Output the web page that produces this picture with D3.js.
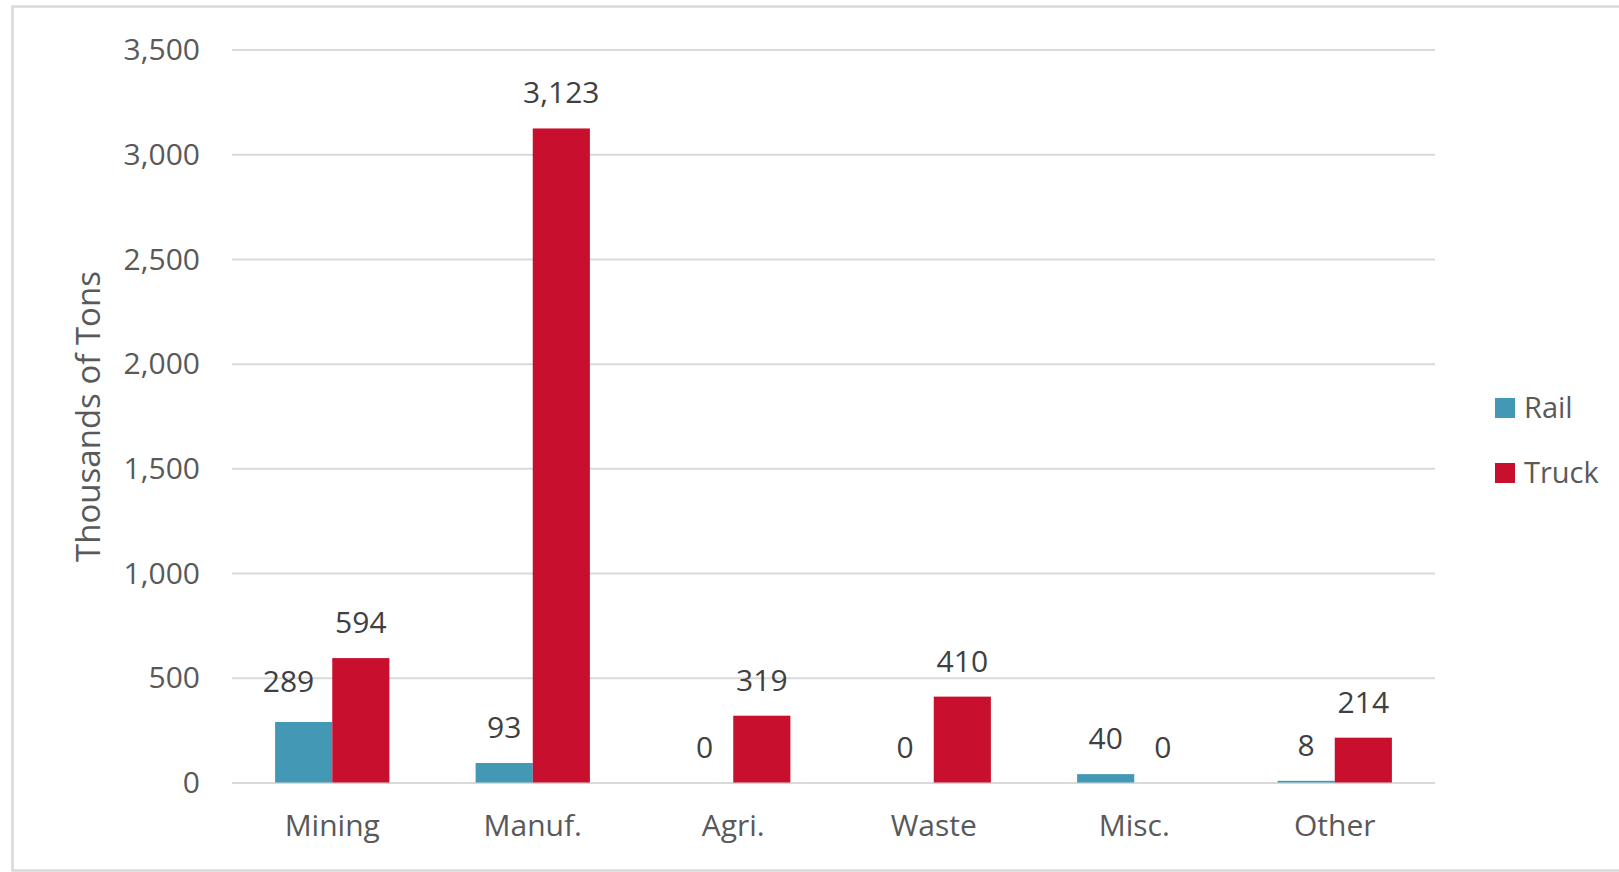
<!DOCTYPE html>
<html>
<head>
<meta charset="utf-8">
<script src="https://cdn.jsdelivr.net/npm/d3@7"></script>
<style>
  html, body { margin: 0; padding: 0; background: #ffffff; }
  svg { display: block; }
  text { font-family: "Open Sans", "Noto Sans", sans-serif; }
</style>
</head>
<body>
<div id="chart"></div>
<script>
// ---- data ----
const categories = ["Mining", "Manuf.", "Agri.", "Waste", "Misc.", "Other"];
const seriesNames = ["Rail", "Truck"];
const railValues = [289, 93, 0, 0, 40, 8];
const truckValues = [594, 3123, 319, 410, 0, 214];
const yTicks = [0, 500, 1000, 1500, 2000, 2500, 3000, 3500];
const yTitle = "Thousands of Tons";
const colors = ["#4398B5", "#C8102E"];

const W = 1619, H = 872;
const plotLeft = 232, plotRight = 1435, plotTop = 49.5, plotBottom = 782.5;

const svg = d3.select("#chart").append("svg")
  .attr("width", W).attr("height", H);

// outer chart border
svg.append("rect")
  .attr("x", 12.5).attr("y", 6.5)
  .attr("width", W + 20).attr("height", 864)
  .attr("fill", "#ffffff")
  .attr("stroke", "#d9d9d9").attr("stroke-width", 2.5);

const y = d3.scaleLinear().domain([0, 3500]).range([plotBottom, plotTop]);
const x0 = d3.scaleBand().domain(categories).range([plotLeft, plotRight])
  .paddingInner(0.43).paddingOuter(0.215);
const x1 = d3.scaleBand().domain(seriesNames).range([0, x0.bandwidth()]);

// y axis with gridlines
const yAxis = d3.axisLeft(y).tickValues(yTicks)
  .tickSize(-(plotRight - plotLeft)).tickPadding(32)
  .tickFormat(d3.format(","));
const gy = svg.append("g").attr("transform", `translate(${plotLeft},0)`).call(yAxis);
gy.select(".domain").remove();
gy.selectAll(".tick line").attr("stroke", "#d9d9d9").attr("stroke-width", 2);
gy.selectAll(".tick text")
  .attr("fill", "#595959").attr("font-size", 30).attr("dy", "0.34em");

// x axis labels
const xAxis = d3.axisBottom(x0).tickSize(0);
const gx = svg.append("g").attr("transform", `translate(0,${plotBottom})`).call(xAxis);
gx.select(".domain").remove();
gx.selectAll(".tick text")
  .attr("fill", "#595959").attr("font-size", 30)
  .attr("y", 53).attr("dy", 0);

// bars
const rows = categories.map((c, i) => ({
  cat: c,
  vals: [
    { s: "Rail", v: railValues[i], other: truckValues[i], c: colors[0] },
    { s: "Truck", v: truckValues[i], other: railValues[i], c: colors[1] }
  ]
}));

const groups = svg.append("g").selectAll("g").data(rows).join("g")
  .attr("transform", d => `translate(${x0(d.cat)},0)`);

groups.selectAll("rect").data(d => d.vals).join("rect")
  .attr("x", d => x1(d.s))
  .attr("width", x1.bandwidth())
  .attr("y", d => y(d.v))
  .attr("height", d => y(0) - y(d.v))
  .attr("fill", d => d.c);

const labels = groups.selectAll("text.lbl").data(d => d.vals).join("text")
  .attr("class", "lbl")
  .attr("x", d => x1(d.s) + x1.bandwidth() / 2)
  .attr("y", d => y(d.v) - 25)
  .attr("text-anchor", "middle")
  .attr("fill", "#404040")
  .attr("font-size", 30)
  .text(d => d3.format(",")(d.v));

// nudge a wide rail label away from a taller neighbouring truck bar (as the reference does)
labels.each(function (d) {
  if (d.s !== "Rail") return;
  const w = this.getComputedTextLength();
  const cx = x1(d.s) + x1.bandwidth() / 2;
  const truckX = x1("Truck");
  const baseline = y(d.v) - 25;
  if (y(d.other) < baseline && cx + w / 2 > truckX - 6) {
    d3.select(this)
      .attr("x", truckX - 18 - w / 2)
      .attr("y", baseline - 5);
  }
});

// y title
svg.append("text")
  .attr("transform", `translate(100,416.5) rotate(-90)`)
  .attr("text-anchor", "middle")
  .attr("fill", "#595959")
  .attr("font-size", 33)
  .text(yTitle);

// legend
const legend = svg.append("g").selectAll("g").data(seriesNames).join("g")
  .attr("transform", (d, i) => `translate(1495,${398 + i * 65})`);
legend.append("rect")
  .attr("width", 20).attr("height", 20)
  .attr("fill", (d, i) => colors[i]);
legend.append("text")
  .attr("x", 29).attr("y", 19.5)
  .attr("fill", "#595959")
  .attr("font-size", 29)
  .text(d => d);
</script>
</body>
</html>
